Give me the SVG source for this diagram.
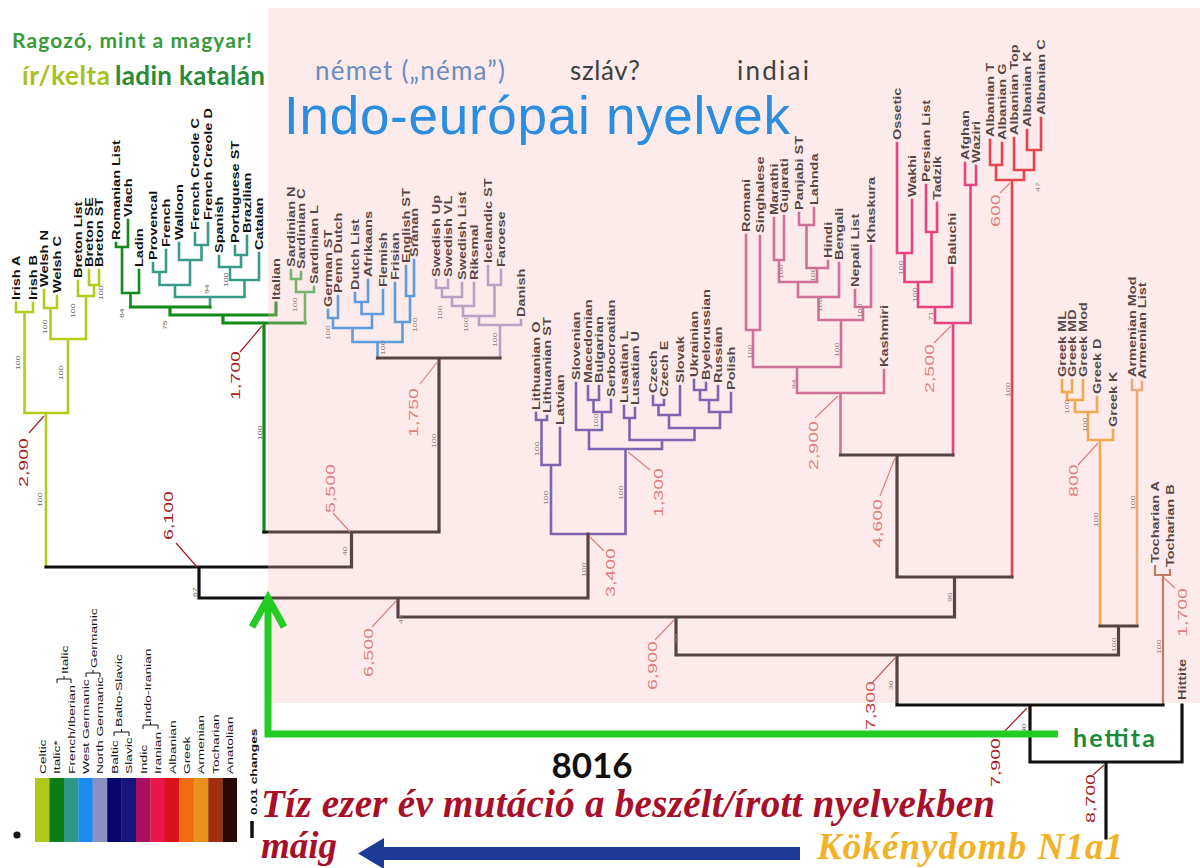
<svg xmlns="http://www.w3.org/2000/svg" width="1200" height="868" viewBox="0 0 1200 868">
<defs>
<style>
.celt{stroke:#b4cc18;stroke-width:2.6}
.ital{stroke:#118a18;stroke-width:2.6}
.itb{stroke:#118a18;stroke-width:3.2}
.frib{stroke:#3a9a8a;stroke-width:2.6}
.sard{stroke:#40b050;stroke-width:2.6}
.wg{stroke:#1a8ef0;stroke-width:2.6}
.ng{stroke:#9a98c8;stroke-width:2.6}
.bsl{stroke:#4a40b0;stroke-width:2.6}
.ind{stroke:#c04f8a;stroke-width:2.6}
.ira{stroke:#e0106a;stroke-width:2.6}
.alb{stroke:#e01020;stroke-width:2.6}
.grk{stroke:#f0a020;stroke-width:2.6}
.arm{stroke:#e6a064;stroke-width:2.6}
.toc{stroke:#a86040;stroke-width:2.2}
.k{stroke:#111;stroke-width:3.2}
.ld{stroke-width:1.2;fill:none}
.ldk{stroke:#a81c1c}
.ldp{stroke:#d76667}
.lb{font-family:"Liberation Sans",Arial,sans-serif;font-weight:bold;font-size:10px;fill:#111}
.dt{font-family:"Liberation Sans",Arial,sans-serif;font-size:13.5px}
.dk{fill:#a81c1c}
.dp{fill:#d76667}
.bs{font-family:"Liberation Sans",Arial,sans-serif;font-size:6px;fill:#666}
.lg{font-family:"Liberation Sans",Arial,sans-serif;font-size:9.5px;fill:#111}
.ttl{font-family:Lato,"Open Sans","Liberation Sans",sans-serif}
.ser{font-family:"Liberation Serif","Times New Roman",serif;font-weight:bold;font-style:italic}
</style>
</defs>
<rect width="1200" height="868" fill="#ffffff"/>

<g id="connectors" fill="none" stroke-linecap="square">
<path id="celtic" class="celt" d="M16 303V312H33V303M24.5 312V413M44 290V308H57V296M50.5 308V339M89 270V285H99V270M94 285V296M78 281V296H94M86 296V339M50.5 339H86M68 339V413M24.5 413H68M46 413V567"/>
<path id="italic-east" class="ital" d="M116 243V247H128V220M122 247V293H139V270M130.5 293V307"/>
<path id="french-iberian" class="frib" d="M153 263V272H166V250M159.5 272V285M195 233V245H208V223M201.5 245V260H179V243M190 260V285M159.5 285H190M175 285V297M235 246V255H247V236M241 255V267H219V256M230 267V280H259V253M244.5 280V297M175 297H244.5M210 297V307"/>
<path id="italic-main" class="itb" d="M130.5 307H210M170 307V315H276V303M223 315V323H305M264 323V532"/>
<path id="sardinian" class="sard" d="M291 270V279H301V272M296 279V292H314V287M305 292V323"/>
<path id="west-germanic" class="wg" d="M328 310V318H338V296M333 318V328M355 293V302H368V280M361.5 302V314H383V290M372 314V328M333 328H372M352.5 328V342M406 266V296H414V260M410 296V322H395V283M402.5 322V342M352.5 342H402.5M377.5 342V358"/>
<path id="north-germanic" class="ng" d="M436 280V288H448V280M442 288V297H462V283M452 297V306H474V283M463 306V316M488 266V285H501V270M494.5 285V316M463 316H494.5M479 316V325H521V320M500 325V358"/>
<path id="balto-slavic" class="bsl" d="M536 413V420H547V416M541.5 420V465H560V428M551 465V534M588 386V400H599V386M593.5 400V412H611V400M602 412V430H576V383M589 430V449M624 406V418H635V408M629.5 418V440M653 396V405H664V400M658.5 405V415H680V386M669 415V428M694 380V390H706V383M700 390V400H718V386M709 400V412H731V393M720 412V428M669 428H720M694.5 428V440M629.5 440H694.5M662 440V449M589 449H662M625.5 449V534M551 534H625.5"/>
<path id="indic" class="ind" d="M746 235V330H760V236M753 330V367M774 218V260H784V216M779 260V282M799 213V225H814V208M806.5 225V268H828V261M817 268V282M779 282H817M798 282V297H839V263M818.5 297V320M855 290V307H871V246M863 307V320M818.5 320H863M841 320V367M753 367H841M797 367V393H884V370M840.5 393V455"/>
<path id="iranian" class="ira" d="M897 143V253H912V200M904.5 253V282M926 185V232H937V203M931.5 232V282M904.5 282H931.5M918 282V307H952V268M935 307V323M965 163V185H976V166M970.5 185V323M935 323H970.5M953 323V455"/>
<path id="albanian" class="alb" d="M990 140V165H1002V143M996 165V180M1027 130V150H1041V118M1034 150V170H1014V138M1024 170V180M996 180H1024M1012 180V577"/>
<path id="greek" class="grk" d="M1062 380V392H1072V380M1067 392V400H1083V380M1075 400V412H1097V397M1088 412V440H1113V430M1100 440V626"/>
<path id="armenian" class="arm" d="M1132 380V390H1142V382M1137 390V626"/>
<path id="tocharian" class="toc" d="M1155 566V575H1170V570M1163 575V705"/>
<path id="backbone" class="k" d="M377.5 358H500M439 358V532M264 532H439M351.5 532V567M46 567H351.5M199 567V598M199 598H588M588 534V598M398 598V617M840.5 455H953M897 455V577M897 577H1012M954.5 577V617M398 617H954.5M676 617V655M1100 626H1137M1118.5 626V655M676 655H1118.5M897 655V705M897 705H1163M1030 705V762M1030 762H1182V705M1106 762V838"/>
</g>

<g id="leaf-labels" class="lb">
<g id="celtic-labels">
<text transform="translate(20 300) rotate(-90) scale(1.45 1)">Irish A</text>
<text transform="translate(37 300) rotate(-90) scale(1.45 1)">Irish B</text>
<text transform="translate(48 287) rotate(-90) scale(1.45 1)">Welsh N</text>
<text transform="translate(61 293) rotate(-90) scale(1.45 1)">Welsh C</text>
<text transform="translate(82 278) rotate(-90) scale(1.45 1)">Breton List</text>
<text transform="translate(93 267) rotate(-90) scale(1.45 1)">Breton SE</text>
<text transform="translate(103 267) rotate(-90) scale(1.45 1)">Breton ST</text>
</g>
<g id="italic-labels">
<text transform="translate(120 240) rotate(-90) scale(1.45 1)">Romanian List</text>
<text transform="translate(132 217) rotate(-90) scale(1.45 1)">Vlach</text>
<text transform="translate(143 267) rotate(-90) scale(1.45 1)">Ladin</text>
<text transform="translate(157 260) rotate(-90) scale(1.45 1)">Provencal</text>
<text transform="translate(170 247) rotate(-90) scale(1.45 1)">French</text>
<text transform="translate(183 240) rotate(-90) scale(1.45 1)">Walloon</text>
<text transform="translate(199 230) rotate(-90) scale(1.45 1)">French Creole C</text>
<text transform="translate(212 220) rotate(-90) scale(1.45 1)">French Creole D</text>
<text transform="translate(223 253) rotate(-90) scale(1.45 1)">Spanish</text>
<text transform="translate(239 243) rotate(-90) scale(1.45 1)">Portuguese ST</text>
<text transform="translate(251 233) rotate(-90) scale(1.45 1)">Brazilian</text>
<text transform="translate(263 250) rotate(-90) scale(1.45 1)">Catalan</text>
<text transform="translate(280 300) rotate(-90) scale(1.45 1)">Italian</text>
<text transform="translate(295 267) rotate(-90) scale(1.45 1)">Sardinian N</text>
<text transform="translate(305 269) rotate(-90) scale(1.45 1)">Sardinian C</text>
<text transform="translate(318 284) rotate(-90) scale(1.45 1)">Sardinian L</text>
</g>
<g id="germanic-labels">
<text transform="translate(332 307) rotate(-90) scale(1.45 1)">German ST</text>
<text transform="translate(342 293) rotate(-90) scale(1.45 1)">Penn Dutch</text>
<text transform="translate(359 290) rotate(-90) scale(1.45 1)">Dutch List</text>
<text transform="translate(372 277) rotate(-90) scale(1.45 1)">Afrikaans</text>
<text transform="translate(387 287) rotate(-90) scale(1.45 1)">Flemish</text>
<text transform="translate(399 280) rotate(-90) scale(1.45 1)">Frisian</text>
<text transform="translate(410 263) rotate(-90) scale(1.45 1)">English ST</text>
<text transform="translate(418 257) rotate(-90) scale(1.45 1)">Sranan</text>
<text transform="translate(440 277) rotate(-90) scale(1.45 1)">Swedish Up</text>
<text transform="translate(452 277) rotate(-90) scale(1.45 1)">Swedish VL</text>
<text transform="translate(466 280) rotate(-90) scale(1.45 1)">Swedish List</text>
<text transform="translate(478 280) rotate(-90) scale(1.45 1)">Riksmal</text>
<text transform="translate(492 263) rotate(-90) scale(1.45 1)">Icelandic ST</text>
<text transform="translate(505 267) rotate(-90) scale(1.45 1)">Faroese</text>
<text transform="translate(525 317) rotate(-90) scale(1.45 1)">Danish</text>
</g>
<g id="balto-slavic-labels">
<text transform="translate(540 410) rotate(-90) scale(1.45 1)">Lithuanian O</text>
<text transform="translate(551 413) rotate(-90) scale(1.45 1)">Lithuanian ST</text>
<text transform="translate(564 425) rotate(-90) scale(1.45 1)">Latvian</text>
<text transform="translate(580 380) rotate(-90) scale(1.45 1)">Slovenian</text>
<text transform="translate(592 383) rotate(-90) scale(1.45 1)">Macedonian</text>
<text transform="translate(603 383) rotate(-90) scale(1.45 1)">Bulgarian</text>
<text transform="translate(615 397) rotate(-90) scale(1.45 1)">Serbocroatian</text>
<text transform="translate(628 403) rotate(-90) scale(1.45 1)">Lusatian L</text>
<text transform="translate(639 405) rotate(-90) scale(1.45 1)">Lusatian U</text>
<text transform="translate(657 393) rotate(-90) scale(1.45 1)">Czech</text>
<text transform="translate(668 397) rotate(-90) scale(1.45 1)">Czech E</text>
<text transform="translate(684 383) rotate(-90) scale(1.45 1)">Slovak</text>
<text transform="translate(698 377) rotate(-90) scale(1.45 1)">Ukrainian</text>
<text transform="translate(710 380) rotate(-90) scale(1.45 1)">Byelorussian</text>
<text transform="translate(722 383) rotate(-90) scale(1.45 1)">Russian</text>
<text transform="translate(735 390) rotate(-90) scale(1.45 1)">Polish</text>
</g>
<g id="indic-labels">
<text transform="translate(750 232) rotate(-90) scale(1.45 1)">Romani</text>
<text transform="translate(764 233) rotate(-90) scale(1.45 1)">Singhalese</text>
<text transform="translate(778 215) rotate(-90) scale(1.45 1)">Marathi</text>
<text transform="translate(788 213) rotate(-90) scale(1.45 1)">Gujarati</text>
<text transform="translate(803 210) rotate(-90) scale(1.45 1)">Panjabi ST</text>
<text transform="translate(818 205) rotate(-90) scale(1.45 1)">Lahnda</text>
<text transform="translate(832 258) rotate(-90) scale(1.45 1)">Hindi</text>
<text transform="translate(843 260) rotate(-90) scale(1.45 1)">Bengali</text>
<text transform="translate(859 287) rotate(-90) scale(1.45 1)">Nepali List</text>
<text transform="translate(875 243) rotate(-90) scale(1.45 1)">Khaskura</text>
<text transform="translate(888 367) rotate(-90) scale(1.45 1)">Kashmiri</text>
</g>
<g id="iranian-labels">
<text transform="translate(901 140) rotate(-90) scale(1.45 1)">Ossetic</text>
<text transform="translate(916 197) rotate(-90) scale(1.45 1)">Wakhi</text>
<text transform="translate(930 182) rotate(-90) scale(1.45 1)">Persian List</text>
<text transform="translate(941 200) rotate(-90) scale(1.45 1)">Tadzik</text>
<text transform="translate(956 265) rotate(-90) scale(1.45 1)">Baluchi</text>
<text transform="translate(969 160) rotate(-90) scale(1.45 1)">Afghan</text>
<text transform="translate(980 163) rotate(-90) scale(1.45 1)">Waziri</text>
</g>
<g id="albanian-labels">
<text transform="translate(994 137) rotate(-90) scale(1.45 1)">Albanian T</text>
<text transform="translate(1006 140) rotate(-90) scale(1.45 1)">Albanian G</text>
<text transform="translate(1018 135) rotate(-90) scale(1.45 1)">Albanian Top</text>
<text transform="translate(1031 127) rotate(-90) scale(1.45 1)">Albanian K</text>
<text transform="translate(1045 115) rotate(-90) scale(1.45 1)">Albanian C</text>
</g>
<g id="greek-armenian-labels">
<text transform="translate(1066 377) rotate(-90) scale(1.45 1)">Greek ML</text>
<text transform="translate(1076 377) rotate(-90) scale(1.45 1)">Greek MD</text>
<text transform="translate(1087 377) rotate(-90) scale(1.45 1)">Greek Mod</text>
<text transform="translate(1101 394) rotate(-90) scale(1.45 1)">Greek D</text>
<text transform="translate(1117 427) rotate(-90) scale(1.45 1)">Greek K</text>
<text transform="translate(1136 377) rotate(-90) scale(1.45 1)">Armenian Mod</text>
<text transform="translate(1146 379) rotate(-90) scale(1.45 1)">Armenian List</text>
</g>
<g id="tocharian-anatolian-labels">
<text transform="translate(1159 563) rotate(-90) scale(1.45 1)">Tocharian A</text>
<text transform="translate(1174 567) rotate(-90) scale(1.45 1)">Tocharian B</text>
<text transform="translate(1186 700) rotate(-90) scale(1.45 1)">Hittite</text>
</g>
</g>

<g id="support-values" class="bs">
<text transform="translate(20 370) rotate(-90) scale(1.45 1)">100</text>
<text transform="translate(63 380) rotate(-90) scale(1.45 1)">100</text>
<text transform="translate(47 334) rotate(-90) scale(1.45 1)">100</text>
<text transform="translate(75 318) rotate(-90) scale(1.45 1)">100</text>
<text transform="translate(103 300) rotate(-90) scale(1.45 1)">100</text>
<text transform="translate(42 507) rotate(-90) scale(1.45 1)">100</text>
<text transform="translate(197 597) rotate(-90) scale(1.45 1)">67</text>
<text transform="translate(124 318) rotate(-90) scale(1.45 1)">84</text>
<text transform="translate(167 330) rotate(-90) scale(1.45 1)">75</text>
<text transform="translate(209 294) rotate(-90) scale(1.45 1)">94</text>
<text transform="translate(228 287) rotate(-90) scale(1.45 1)">100</text>
<text transform="translate(262 440) rotate(-90) scale(1.45 1)">100</text>
<text transform="translate(297 312) rotate(-90) scale(1.45 1)">100</text>
<text transform="translate(330 340) rotate(-90) scale(1.45 1)">100</text>
<text transform="translate(385 355) rotate(-90) scale(1.45 1)">100</text>
<text transform="translate(417 332) rotate(-90) scale(1.45 1)">100</text>
<text transform="translate(442 320) rotate(-90) scale(1.45 1)">100</text>
<text transform="translate(468 332) rotate(-90) scale(1.45 1)">100</text>
<text transform="translate(497 347) rotate(-90) scale(1.45 1)">100</text>
<text transform="translate(436 448) rotate(-90) scale(1.45 1)">100</text>
<text transform="translate(347 556) rotate(-90) scale(1.45 1)">40</text>
<text transform="translate(403 624) rotate(-90) scale(1.45 1)">44</text>
<text transform="translate(678 643) rotate(-90) scale(1.45 1)">44</text>
<text transform="translate(586 577) rotate(-90) scale(1.45 1)">100</text>
<text transform="translate(548 505) rotate(-90) scale(1.45 1)">100</text>
<text transform="translate(539 456) rotate(-90) scale(1.45 1)">100</text>
<text transform="translate(623 500) rotate(-90) scale(1.45 1)">100</text>
<text transform="translate(598 428) rotate(-90) scale(1.45 1)">100</text>
<text transform="translate(952 602) rotate(-90) scale(1.45 1)">96</text>
<text transform="translate(1010 397) rotate(-90) scale(1.45 1)">100</text>
<text transform="translate(1098 527) rotate(-90) scale(1.45 1)">100</text>
<text transform="translate(1135 510) rotate(-90) scale(1.45 1)">100</text>
<text transform="translate(1116 652) rotate(-90) scale(1.45 1)">100</text>
<text transform="translate(1161 654) rotate(-90) scale(1.45 1)">100</text>
<text transform="translate(893 690) rotate(-90) scale(1.45 1)">30</text>
<text transform="translate(1026 733) rotate(-90) scale(1.45 1)">90</text>
<text transform="translate(839 357) rotate(-90) scale(1.45 1)">100</text>
<text transform="translate(752 359) rotate(-90) scale(1.45 1)">100</text>
<text transform="translate(783 279) rotate(-90) scale(1.45 1)">100</text>
<text transform="translate(815 282) rotate(-90) scale(1.45 1)">100</text>
<text transform="translate(822 312) rotate(-90) scale(1.45 1)">100</text>
<text transform="translate(862 318) rotate(-90) scale(1.45 1)">100</text>
<text transform="translate(796 389) rotate(-90) scale(1.45 1)">94</text>
<text transform="translate(903 275) rotate(-90) scale(1.45 1)">100</text>
<text transform="translate(917 302) rotate(-90) scale(1.45 1)">100</text>
<text transform="translate(933 321) rotate(-90) scale(1.45 1)">71</text>
<text transform="translate(1069 414) rotate(-90) scale(1.45 1)">100</text>
<text transform="translate(1087 432) rotate(-90) scale(1.45 1)">100</text>
<text transform="translate(1040 192) rotate(-90) scale(1.45 1)">47</text>
</g>

<g id="dates">
<path class="ld ldk" d="M44 416L29 433M197 567L176 543M262 326L240 352M1027 708L1003 733M1104 765L1093 775"/>
<path class="ld ldp" d="M438 361L420 384M350 532L333 513M396 601L372 627M590 537L604 551M628 452L650 470M674 620L655 640M838 396L815 418M951 326L934 343M895 458L880 496M1010 183L1000 193M1098 443L1078 465M1164 578L1175 588"/>
<path class="ld" stroke="#c03838" d="M895 658L872 683"/>
<g class="dt dk">
<text transform="translate(28 487) rotate(-90) scale(1.45 1)">2,900</text>
<text transform="translate(173 540) rotate(-90) scale(1.45 1)">6,100</text>
<text transform="translate(240 400) rotate(-90) scale(1.45 1)">1,700</text>
<text transform="translate(1000 787) rotate(-90) scale(1.45 1)">7,900</text>
<text transform="translate(1095 823) rotate(-90) scale(1.45 1)">8,700</text>
</g>
<g class="dt dp">
<text transform="translate(418 437) rotate(-90) scale(1.45 1)">1,750</text>
<text transform="translate(335 513) rotate(-90) scale(1.45 1)">5,500</text>
<text transform="translate(373 677) rotate(-90) scale(1.45 1)">6,500</text>
<text transform="translate(615 597) rotate(-90) scale(1.45 1)">3,400</text>
<text transform="translate(663 517) rotate(-90) scale(1.45 1)">1,300</text>
<text transform="translate(657 690) rotate(-90) scale(1.45 1)">6,900</text>
<text transform="translate(818 470) rotate(-90) scale(1.45 1)">2,900</text>
<text transform="translate(934 393) rotate(-90) scale(1.45 1)">2,500</text>
<text transform="translate(882 548) rotate(-90) scale(1.45 1)">4,600</text>
<text transform="translate(1000 227) rotate(-90) scale(1.45 1)">600</text>
<text transform="translate(1078 497) rotate(-90) scale(1.45 1)">800</text>
<text transform="translate(1187 637) rotate(-90) scale(1.45 1)">1,700</text>
</g>
<text class="dt" fill="#c03838" transform="translate(875 730) rotate(-90) scale(1.45 1)">7,300</text>
</g>

<rect id="indo-european-region" x="268" y="8" width="932" height="695" fill="#f5bcb9" fill-opacity="0.3"/>

<g id="legend">
<rect x="35" y="778" width="14.6" height="64" fill="#b0c818"/>
<rect x="49.4" y="778" width="14.6" height="64" fill="#0c7c14"/>
<rect x="63.9" y="778" width="14.6" height="64" fill="#2e9888"/>
<rect x="78.3" y="778" width="14.6" height="64" fill="#1a8cf0"/>
<rect x="92.7" y="778" width="14.6" height="64" fill="#8c8fc2"/>
<rect x="107.2" y="778" width="14.6" height="64" fill="#06066e"/>
<rect x="121.6" y="778" width="14.6" height="64" fill="#15157a"/>
<rect x="136" y="778" width="14.6" height="64" fill="#a8105e"/>
<rect x="150.4" y="778" width="14.6" height="64" fill="#e8164a"/>
<rect x="164.9" y="778" width="14.6" height="64" fill="#d81418"/>
<rect x="179.3" y="778" width="14.6" height="64" fill="#f06a10"/>
<rect x="193.7" y="778" width="14.6" height="64" fill="#e8921c"/>
<rect x="208.2" y="778" width="14.6" height="64" fill="#a0300e"/>
<rect x="222.6" y="778" width="14.4" height="64" fill="#2a0808"/>
<g class="lg">
<text transform="translate(46 774) rotate(-90) scale(1.45 1)">Celtic</text>
<text transform="translate(60 774) rotate(-90) scale(1.45 1)">Italic*</text>
<text transform="translate(75 774) rotate(-90) scale(1.45 1)">French/Iberian</text>
<text transform="translate(89 774) rotate(-90) scale(1.45 1)">West Germanic</text>
<text transform="translate(103 774) rotate(-90) scale(1.45 1)">North Germanic</text>
<text transform="translate(118 774) rotate(-90) scale(1.45 1)">Baltic</text>
<text transform="translate(132 774) rotate(-90) scale(1.45 1)">Slavic</text>
<text transform="translate(147 774) rotate(-90) scale(1.45 1)">Indic</text>
<text transform="translate(161 774) rotate(-90) scale(1.45 1)">Iranian</text>
<text transform="translate(176 774) rotate(-90) scale(1.45 1)">Albanian</text>
<text transform="translate(190 774) rotate(-90) scale(1.45 1)">Greek</text>
<text transform="translate(204 774) rotate(-90) scale(1.45 1)">Armenian</text>
<text transform="translate(219 774) rotate(-90) scale(1.45 1)">Tocharian</text>
<text transform="translate(233 774) rotate(-90) scale(1.45 1)">Anatolian</text>
<text transform="translate(68 674) rotate(-90) scale(1.45 1)">Italic</text>
<text transform="translate(97 668) rotate(-90) scale(1.45 1)">Germanic</text>
<text transform="translate(122 727) rotate(-90) scale(1.45 1)">Balto-Slavic</text>
<text transform="translate(151 722) rotate(-90) scale(1.45 1)">Indo-Iranian</text>
</g>
<path d="M57 683V679H71V683M64 679V676M86 677V673H100V677M93 673V670M114 736V732H129V736M121.5 732V729M143 729V725H158V729M150.5 725V722" fill="none" stroke="#111" stroke-width="1"/>
<path d="M252 821V838" stroke="#111" stroke-width="3.5"/>
<text class="lg" font-weight="bold" transform="translate(257 815) rotate(-90) scale(1.45 1)">0.01 changes</text>
<circle cx="17" cy="835" r="3.6" fill="#111"/>
</g>

<g id="titles" class="ttl">
<text x="12" y="48" font-size="21" font-weight="bold" fill="#3a9a3a" textLength="240">Ragozó, mint a magyar!</text>
<text x="22" y="85" font-size="26" font-weight="bold" fill="#a8c020" textLength="88">ír/kelta</text>
<text x="115" y="85" font-size="26" font-weight="bold" fill="#2a8a3a" textLength="150">ladin katalán</text>
<text x="315" y="80" font-size="26" fill="#6a8cc0" textLength="190">német („néma”)</text>
<text x="570" y="80" font-size="26" fill="#404040" textLength="70">szláv?</text>
<text x="737" y="80" font-size="26" fill="#404040" textLength="72">indiai</text>
<text x="284" y="134" font-size="53" fill="#2b8de0" textLength="506" style="font-family:'Liberation Sans',Arial,sans-serif">Indo-európai nyelvek</text>
</g>

<g id="arrows">
<path id="green-arrow" d="M1058 734H268V600M252 627L268 598L284 627" fill="none" stroke="#22cc22" stroke-width="7" stroke-linejoin="miter"/>
<polygon id="blue-arrow" points="358,853.5 384,838 384,847 800,847 800,860 384,860 384,869" fill="#1b3b96"/>
</g>

<g id="bottom-texts">
<text class="ttl" x="1073" y="747" font-size="25" font-weight="bold" fill="#1a8a3a" textLength="82">hettita</text>
<text class="ttl" x="592" y="778" font-size="35" font-weight="bold" fill="#111" text-anchor="middle">8016</text>
<text class="ser" x="261" y="817" font-size="39" fill="#a8102a" textLength="734">Tíz ezer év mutáció a beszélt/írott nyelvekben</text>
<text class="ser" x="261" y="858" font-size="37" fill="#a8102a">máig</text>
<text class="ser" x="817" y="859" font-size="37" fill="#f2b226" textLength="306">Kökénydomb N1a1</text>
</g>
</svg>
